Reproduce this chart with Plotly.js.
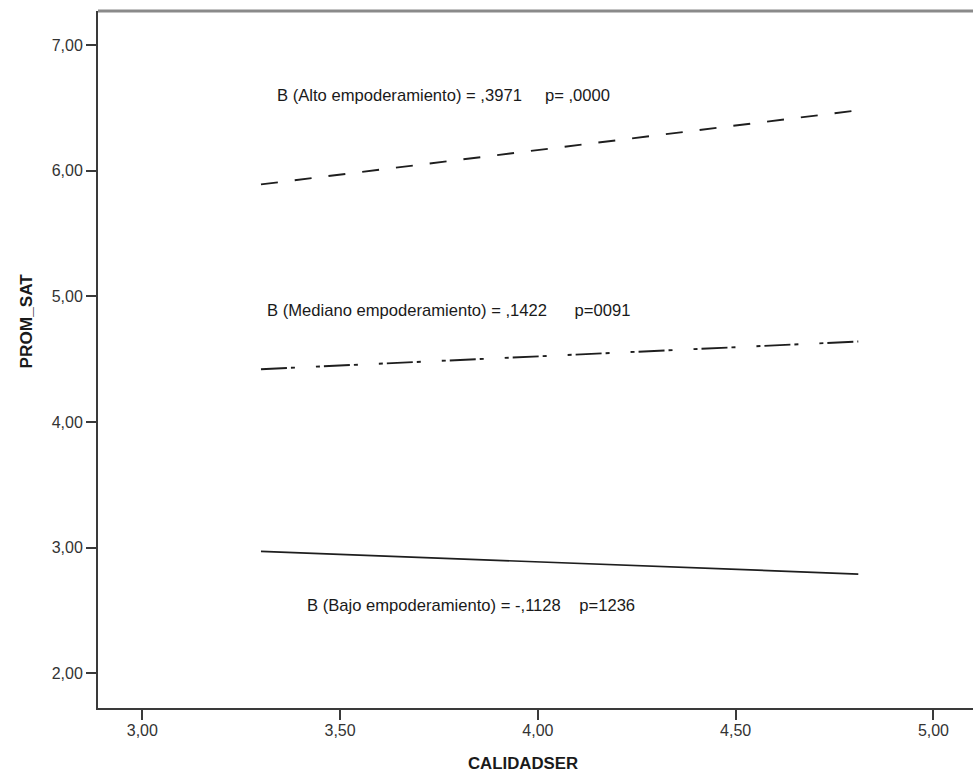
<!DOCTYPE html>
<html>
<head>
<meta charset="utf-8">
<script src="https://cdn.plot.ly/plotly-3.0.1.min.js"></script>
<style>
  html, body { margin: 0; padding: 0; background: #ffffff; }
  #chart { width: 973px; height: 780px; }
</style>
</head>
<body>
<div id="chart"></div>
<script>
// Data
const groups = ["Alto empoderamiento", "Mediano empoderamiento", "Bajo empoderamiento"];
const calidadX = [3.30, 4.81];
const altoY = [5.89, 6.48];
const medianoY = [4.42, 4.64];
const bajoY = [2.97, 2.79];
const labels = [
  "B (Alto empoderamiento) = ,3971\u00a0\u00a0\u00a0\u00a0\u00a0p= ,0000",
  "B (Mediano empoderamiento) = ,1422\u00a0\u00a0\u00a0\u00a0\u00a0\u00a0p=0091",
  "B (Bajo empoderamiento) = -,1128\u00a0\u00a0\u00a0\u00a0p=1236"
];
const xTicks = [3.0, 3.5, 4.0, 4.5, 5.0];
const xTickText = ["3,00", "3,50", "4,00", "4,50", "5,00"];
const yTicks = [2, 3, 4, 5, 6, 7];
const yTickText = ["2,00", "3,00", "4,00", "5,00", "6,00", "7,00"];

const FONT = "Liberation Sans, Arial, Helvetica, sans-serif";
const lineColor = "#1e1e1e";

const traces = [
  { x: calidadX, y: altoY, name: groups[0], mode: "lines",
    line: { color: lineColor, width: 1.9, dash: "17px,17px" } },
  { x: calidadX, y: medianoY, name: groups[1], mode: "lines",
    line: { color: lineColor, width: 1.9, dash: "26px,4px,4px,21px,4px,4px" } },
  { x: calidadX, y: bajoY, name: groups[2], mode: "lines",
    line: { color: lineColor, width: 1.7 } }
];

const annPos = [
  { x: 3.3355, y: 6.595 },
  { x: 3.310, y: 4.89 },
  { x: 3.411, y: 2.536 }
];

const annotations = labels.map((t, i) => ({
  text: t, x: annPos[i].x, y: annPos[i].y, xref: "x", yref: "y",
  xanchor: "left", yanchor: "middle", showarrow: false,
  font: { family: FONT, size: 16.6, color: "#1a1a1a" }
}));

annotations.push({
  text: "<b>PROM_SAT</b>", xref: "paper", yref: "paper",
  x: -0.082, y: 0.555, xanchor: "center", yanchor: "middle",
  textangle: -90, showarrow: false,
  font: { family: FONT, size: 17.2, color: "#1a1a1a" }
});
annotations.push({
  text: "<b>CALIDADSER</b>", xref: "paper", yref: "paper",
  x: 0.486, y: -0.080, xanchor: "center", yanchor: "middle",
  showarrow: false,
  font: { family: FONT, size: 16.8, color: "#1a1a1a" }
});

const layout = {
  width: 973, height: 780,
  margin: { l: 98, r: 0, t: 11, b: 72 },
  paper_bgcolor: "#ffffff", plot_bgcolor: "#ffffff",
  showlegend: false,
  xaxis: {
    range: [2.888, 5.1], tickvals: xTicks, ticktext: xTickText,
    showgrid: false, zeroline: false,
    showline: true, linecolor: "#3a3a3a", linewidth: 2,
    ticks: "outside", ticklen: 10, tickwidth: 2, tickcolor: "#3a3a3a",
    ticklabelstandoff: -3,
    tickfont: { family: FONT, size: 16, color: "#333333" }
  },
  yaxis: {
    range: [1.724, 7.27], tickvals: yTicks, ticktext: yTickText,
    showgrid: false, zeroline: false,
    showline: true, linecolor: "#3a3a3a", linewidth: 2,
    ticks: "outside", ticklen: 10, tickwidth: 2, tickcolor: "#3a3a3a",
    tickfont: { family: FONT, size: 16, color: "#333333" }
  },
  shapes: [
    { type: "line", xref: "paper", yref: "paper", x0: 0, x1: 1, y0: 1, y1: 1,
      line: { color: "#8a8a8a", width: 3 } }
  ],
  annotations: annotations
};

Plotly.newPlot("chart", traces, layout, { staticPlot: true, displayModeBar: false });
</script>
</body>
</html>
